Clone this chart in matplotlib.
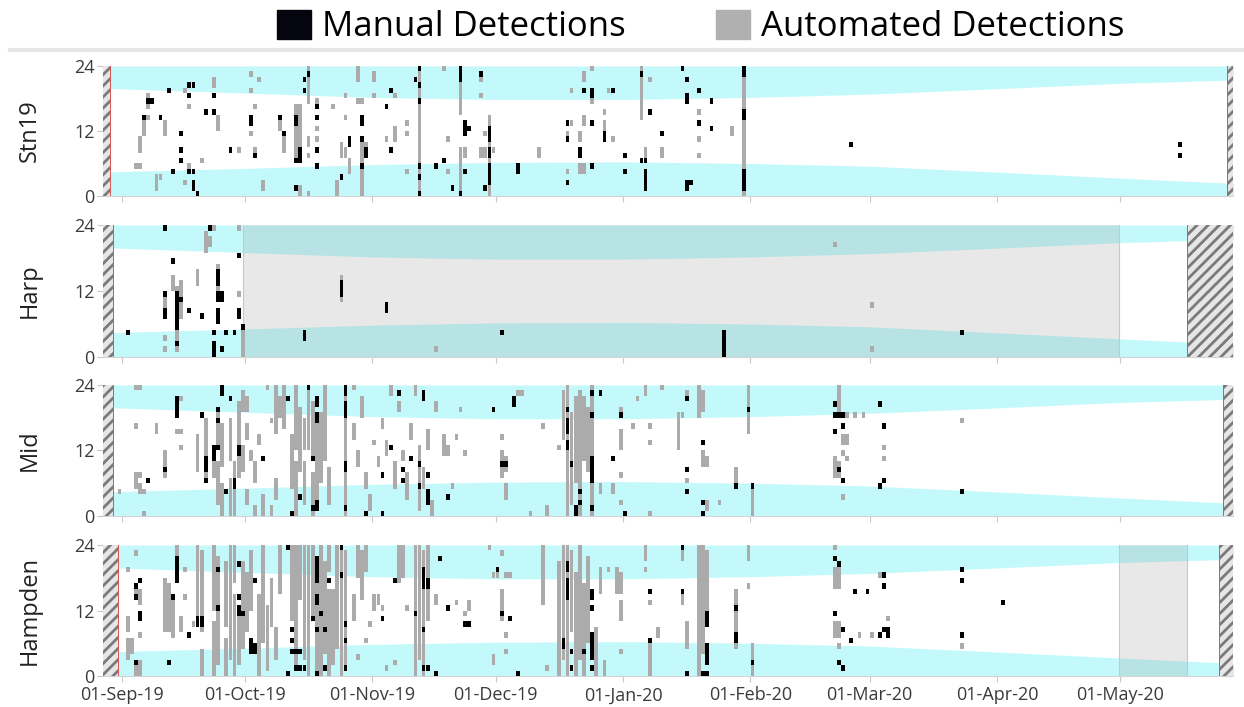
import numpy as np
import matplotlib
matplotlib.use("Agg")
import matplotlib.pyplot as plt
import matplotlib.dates as mdates
from matplotlib.patches import Patch
from matplotlib.lines import Line2D

plt.rcParams["font.family"] = ["Open Sans", "DejaVu Sans"]
plt.rcParams["hatch.linewidth"] = 2.0

# day offsets are counted from 01-Sep-2019, hours are the hour bin (0-23)
start = mdates.date2num(np.datetime64("2019-09-01"))
x_min, x_max = -4.5, 270.4

stations = ["Stn19", "Harp", "Mid", "Hampden"]

# night shading (sunset -> 24 and 0 -> sunrise), hours
band_days = [-5, 30, 61, 91, 122, 153, 182, 213, 243, 271]
sunset = [19.9, 19.0, 18.2, 17.8, 17.8, 18.2, 18.8, 19.8, 20.8, 21.4]
sunrise = [4.4, 5.1, 5.8, 6.2, 6.3, 6.0, 5.5, 4.4, 3.3, 2.3]

# not recording (hatched) and reduced effort (grey) periods, in days
hatched = {
    "Stn19": [(-4.5, -2.8), (268.9, 270.4)],
    "Harp": [(-4.5, -2.0), (259.1, 270.4)],
    "Mid": [(-4.5, -2.0), (268.0, 270.4)],
    "Hampden": [(-4.5, -0.8), (267.0, 270.4)],
}
grey_periods = {
    "Stn19": [],
    "Harp": [(29.6, 242.6)],
    "Mid": [],
    "Hampden": [(242.6, 259.1)],
}

# detections: (day, first hour, last hour)
stn19_manual = [
    (6, 17, 17), (7, 17, 17), (5, 14, 14), (9, 14, 14), (11, 19, 19), (12, 4, 4),
    (14, 11, 11), (14, 8, 8), (14, 6, 6), (16, 20, 20), (17, 20, 20), (16, 18, 18),
    (16, 4, 4), (17, 4, 4), (17, 2, 2), (17, 1, 1), (18, 0, 0), (20, 15, 15),
    (22, 15, 15), (22, 18, 18), (26, 8, 8), (31, 13, 14), (32, 7, 7), (38, 14, 14),
    (39, 11, 11), (42, 13, 14), (42, 6, 6), (43, 6, 6), (43, 7, 8), (42, 1, 1),
    (44, 21, 21), (44, 19, 19), (45, 22, 22), (47, 16, 16), (47, 14, 14), (47, 8, 8),
    (47, 5, 5), (53, 3, 3), (55, 9, 10), (58, 13, 14), (58, 10, 10), (59, 7, 8),
    (58, 5, 5), (64, 16, 16), (65, 19, 19), (65, 8, 8), (71, 21, 21), (72, 23, 23),
    (72, 20, 20), (72, 17, 17), (72, 5, 5), (72, 3, 3), (72, 0, 0), (76, 5, 5),
    (78, 6, 6), (80, 1, 1), (82, 21, 23), (83, 11, 13), (84, 12, 12), (83, 4, 4),
    (82, 0, 0), (87, 22, 22), (89, 10, 12), (89, 7, 8), (89, 2, 5), (88, 1, 1),
    (96, 4, 5), (108, 13, 13), (108, 10, 10), (108, 2, 2), (111, 7, 8), (112, 19, 19),
    (114, 18, 19), (114, 13, 13), (114, 5, 5), (117, 10, 11), (119, 19, 19),
    (122, 7, 7), (122, 4, 4), (126, 22, 22), (126, 6, 6), (127, 6, 6), (127, 1, 4),
    (128, 15, 15), (131, 11, 11), (136, 23, 23), (137, 21, 21), (137, 17, 18),
    (137, 1, 2), (138, 2, 2), (140, 19, 19), (140, 13, 13), (143, 17, 17),
    (143, 12, 12), (151, 22, 23), (151, 14, 15), (151, 1, 4), (177, 9, 9),
    (257, 9, 9), (257, 7, 7),
]
stn19_auto = [
    (3, 5, 5), (4, 5, 5), (4, 8, 10), (5, 11, 13), (6, 16, 18), (6, 14, 14),
    (10, 11, 13), (8, 1, 3), (9, 3, 3), (15, 19, 19), (16, 16, 16), (15, 2, 2),
    (16, 5, 5), (19, 6, 6), (22, 20, 21), (23, 12, 14), (28, 8, 8), (31, 22, 22),
    (33, 21, 21), (31, 19, 19), (32, 16, 16), (31, 11, 11), (32, 8, 8), (34, 1, 2),
    (38, 12, 13), (39, 8, 10), (42, 7, 16), (43, 9, 16), (43, 0, 1), (45, 17, 23),
    (45, 9, 10), (45, 7, 7), (45, 0, 0), (47, 17, 17), (47, 12, 12), (47, 10, 10),
    (51, 16, 16), (54, 18, 18), (54, 14, 14), (53, 7, 9), (54, 7, 8), (52, 0, 2),
    (55, 4, 6), (57, 21, 23), (57, 17, 17), (58, 17, 17), (58, 0, 10), (59, 7, 9),
    (61, 21, 22), (61, 18, 18), (64, 10, 10), (66, 10, 12), (66, 18, 18), (69, 13, 13),
    (69, 11, 11), (69, 4, 4), (72, 0, 23), (78, 23, 23), (79, 10, 10), (79, 4, 4),
    (82, 15, 20), (82, 0, 8), (83, 7, 8), (87, 21, 21), (87, 18, 18), (87, 7, 8),
    (88, 7, 8), (88, 11, 11), (89, 0, 14), (90, 8, 8), (101, 7, 8), (109, 13, 13),
    (108, 11, 11), (108, 4, 4), (109, 19, 19), (111, 10, 11), (111, 4, 5),
    (112, 4, 5), (112, 21, 22), (112, 13, 14), (114, 23, 23), (114, 17, 17),
    (117, 15, 15), (117, 11, 13), (118, 19, 19), (119, 10, 10), (126, 14, 23),
    (128, 21, 21), (127, 7, 8), (131, 7, 8), (140, 15, 15), (140, 10, 10),
    (140, 7, 7), (148, 11, 12), (151, 0, 23),
]

harp_manual = [
    (1, 4, 4), (10, 23, 23), (10, 11, 11), (10, 7, 8), (12, 17, 17), (13, 5, 11),
    (13, 2, 2), (14, 10, 10), (16, 8, 8), (19, 7, 7), (21, 23, 23), (23, 13, 15),
    (23, 10, 11), (24, 10, 11), (23, 6, 8), (22, 4, 4), (22, 0, 2), (24, 1, 1),
    (25, 4, 4), (27, 4, 4), (28, 18, 18), (28, 7, 8), (29, 5, 5), (44, 3, 4),
    (53, 11, 13), (64, 8, 9), (92, 4, 4), (146, 0, 4), (204, 4, 4),
]
harp_auto = [
    (10, 9, 10), (10, 3, 3), (10, 1, 1), (12, 12, 14), (13, 1, 12), (14, 7, 13),
    (18, 13, 15), (20, 19, 22), (21, 20, 21), (22, 23, 23), (23, 12, 16),
    (28, 23, 23), (28, 11, 11), (29, 0, 5), (53, 10, 14), (76, 1, 1), (173, 20, 20),
    (182, 9, 9), (182, 1, 1),
]

mid_manual = [
    (6, 6, 6), (10, 8, 8), (13, 18, 21), (19, 18, 18), (20, 8, 10), (20, 6, 6),
    (22, 10, 11), (22, 12, 12), (23, 12, 12), (23, 19, 19), (23, 17, 17),
    (24, 22, 23), (25, 4, 4), (26, 21, 21), (27, 5, 6), (28, 11, 12), (34, 10, 10),
    (40, 21, 21), (41, 0, 0), (43, 3, 3), (45, 23, 23), (46, 10, 10), (47, 20, 21),
    (47, 17, 18), (47, 1, 2), (46, 1, 1), (54, 22, 23), (54, 18, 20), (54, 8, 9),
    (54, 1, 1), (59, 0, 0), (63, 7, 7), (63, 0, 0), (65, 12, 12), (67, 22, 22),
    (68, 8, 8), (68, 6, 6), (70, 10, 10), (72, 9, 9), (72, 5, 5), (73, 21, 22),
    (74, 7, 7), (74, 2, 4), (79, 3, 3), (90, 19, 19), (95, 20, 21), (92, 9, 9),
    (93, 9, 9), (108, 19, 19), (108, 15, 17), (108, 12, 13), (109, 9, 9),
    (110, 0, 1), (111, 4, 4), (111, 2, 2), (114, 22, 22), (116, 22, 22),
    (114, 18, 18), (114, 6, 10), (114, 1, 1), (119, 10, 10), (121, 18, 18),
    (122, 0, 0), (137, 21, 21), (137, 8, 8), (137, 4, 4), (141, 13, 13),
    (141, 2, 2), (141, 0, 0), (149, 5, 5), (153, 5, 5), (152, 19, 19),
    (173, 20, 20), (173, 18, 18), (174, 18, 18), (175, 18, 18), (175, 16, 16),
    (173, 15, 15), (174, 8, 8), (175, 6, 6), (184, 20, 20), (185, 16, 16),
    (185, 6, 6), (184, 5, 5), (204, 4, 4),
]
mid_auto = [
    (-1, 4, 4), (3, 23, 23), (4, 23, 23), (3, 16, 16), (3, 5, 7), (4, 4, 5),
    (4, 7, 7), (5, 4, 4), (5, 0, 0), (8, 15, 16), (10, 9, 11), (10, 7, 7),
    (13, 15, 15), (14, 15, 15), (14, 21, 21), (14, 12, 12), (18, 8, 14), (20, 7, 17),
    (22, 7, 11), (23, 2, 9), (23, 13, 18), (24, 0, 5), (24, 9, 16), (26, 0, 6),
    (26, 10, 17), (27, 0, 9), (28, 7, 20), (29, 19, 22), (30, 19, 21), (29, 8, 12),
    (30, 14, 16), (31, 10, 11), (32, 6, 9), (33, 13, 14), (30, 2, 4), (32, 0, 1),
    (34, 0, 3), (35, 23, 23), (36, 17, 17), (37, 15, 23), (38, 18, 21), (39, 16, 23),
    (37, 3, 6), (36, 0, 1), (41, 5, 14), (42, 0, 9), (42, 12, 23), (43, 8, 19),
    (44, 2, 9), (44, 12, 17), (45, 12, 22), (46, 0, 7), (46, 11, 20), (47, 3, 16),
    (48, 6, 18), (49, 10, 23), (50, 2, 8), (54, 0, 23), (56, 23, 23), (56, 14, 16),
    (57, 9, 11), (58, 18, 21), (59, 5, 7), (60, 1, 3), (61, 13, 13), (62, 9, 10),
    (63, 16, 17), (64, 11, 13), (65, 22, 23), (66, 5, 9), (67, 19, 20), (68, 10, 11),
    (69, 3, 7), (70, 14, 16), (71, 22, 23), (72, 1, 12), (73, 5, 8), (74, 12, 15),
    (75, 0, 2), (76, 19, 20), (78, 11, 14), (79, 11, 12), (80, 5, 5), (81, 14, 14),
    (82, 19, 19), (83, 11, 11), (92, 14, 14), (92, 7, 11), (93, 8, 10), (93, 3, 5),
    (96, 22, 22), (97, 22, 22), (99, 0, 0), (102, 16, 16), (103, 0, 1),
    (106, 12, 12), (107, 14, 22), (108, 0, 23), (109, 2, 18), (110, 6, 21),
    (111, 0, 22), (112, 10, 21), (113, 8, 19), (114, 0, 23), (116, 4, 5),
    (119, 4, 5), (121, 12, 15), (121, 7, 7), (121, 2, 2), (121, 19, 19),
    (124, 16, 16), (125, 21, 21), (127, 22, 23), (128, 16, 16), (128, 13, 13),
    (128, 0, 0), (131, 23, 23), (135, 12, 18), (136, 18, 18), (137, 22, 22),
    (137, 6, 6), (140, 18, 23), (141, 19, 22), (141, 9, 11), (142, 9, 10),
    (142, 1, 2), (145, 2, 2), (149, 6, 8), (152, 15, 23), (153, 0, 4),
    (174, 19, 23), (175, 13, 14), (176, 13, 14), (176, 18, 18), (178, 18, 18),
    (175, 11, 11), (176, 10, 10), (173, 7, 10), (174, 7, 9), (175, 3, 3),
    (180, 18, 18), (185, 12, 12), (185, 10, 10), (204, 17, 17),
]

hampden_manual = [
    (3, 16, 16), (3, 14, 14), (4, 17, 17), (4, 10, 11), (3, 2, 2), (12, 14, 14),
    (11, 2, 2), (13, 17, 21), (16, 7, 7), (18, 9, 10), (19, 9, 10), (23, 19, 19),
    (23, 12, 12), (28, 20, 20), (28, 14, 14), (28, 11, 12), (29, 11, 11),
    (32, 17, 17), (31, 4, 6), (32, 4, 5), (40, 23, 23), (41, 8, 8), (41, 6, 6),
    (41, 4, 4), (42, 4, 4), (43, 4, 4), (42, 1, 1), (43, 1, 1), (44, 1, 1),
    (40, 0, 0), (46, 10, 10), (47, 17, 21), (47, 13, 14), (47, 8, 8), (48, 11, 11),
    (49, 8, 8), (47, 0, 0), (49, 1, 1), (50, 17, 17), (53, 23, 23), (53, 18, 18),
    (54, 9, 9), (54, 6, 6), (54, 1, 1), (63, 10, 10), (66, 17, 17), (71, 11, 11),
    (73, 16, 19), (74, 16, 17), (73, 8, 8), (73, 1, 1), (74, 1, 1), (76, 0, 0),
    (77, 21, 21), (79, 12, 12), (83, 9, 9), (84, 9, 9), (91, 19, 19), (92, 11, 11),
    (94, 10, 10), (96, 0, 0), (108, 19, 20), (108, 14, 17), (107, 5, 6),
    (109, 4, 4), (109, 1, 1), (112, 4, 4), (114, 14, 15), (114, 12, 12),
    (114, 5, 7), (114, 3, 4), (114, 1, 1), (128, 15, 15), (128, 6, 6),
    (136, 23, 23), (136, 15, 15), (137, 0, 0), (142, 9, 11), (142, 2, 5),
    (141, 0, 0), (142, 0, 0), (149, 12, 12), (149, 7, 7), (149, 6, 6), (153, 2, 2),
    (173, 21, 21), (174, 20, 20), (173, 11, 11), (175, 8, 8), (177, 6, 6),
    (174, 2, 2), (175, 1, 1), (178, 15, 15), (181, 15, 15), (185, 18, 18),
    (185, 16, 16), (185, 8, 8), (186, 7, 8), (184, 7, 7), (204, 19, 19),
    (204, 17, 17), (204, 7, 7), (214, 13, 13),
]
hampden_auto = [
    (1, 19, 19), (1, 8, 10), (1, 3, 6), (2, 4, 6), (3, 22, 22), (3, 15, 15),
    (3, 0, 1), (4, 13, 15), (4, 7, 7), (4, 0, 2), (10, 8, 17), (11, 8, 16),
    (12, 7, 13), (13, 22, 23), (15, 19, 19), (15, 14, 14), (14, 8, 10), (17, 9, 9),
    (18, 11, 23), (19, 8, 22), (19, 0, 4), (22, 0, 9), (22, 12, 23), (23, 2, 21),
    (25, 0, 6), (25, 9, 20), (26, 3, 23), (27, 0, 14), (27, 17, 23), (28, 2, 10),
    (29, 5, 20), (30, 8, 18), (31, 12, 22), (33, 0, 14), (34, 6, 23), (35, 1, 12),
    (36, 9, 17), (37, 3, 8), (38, 15, 23), (41, 10, 23), (42, 2, 23), (43, 14, 23),
    (44, 3, 23), (45, 0, 23), (46, 11, 23), (47, 1, 16), (48, 0, 23), (49, 4, 20),
    (50, 0, 15), (50, 19, 23), (51, 2, 15), (52, 5, 23), (53, 0, 22), (54, 2, 22),
    (56, 10, 14), (57, 18, 23), (58, 14, 22), (59, 19, 23), (57, 3, 3), (59, 6, 6),
    (60, 9, 9), (61, 12, 14), (62, 13, 14), (63, 12, 12), (64, 1, 1), (66, 2, 2),
    (67, 17, 23), (68, 18, 23), (69, 12, 12), (71, 0, 23), (72, 3, 23),
    (73, 0, 22), (74, 10, 23), (76, 13, 14), (81, 13, 13), (83, 11, 11),
    (84, 12, 13), (89, 23, 23), (90, 18, 18), (90, 2, 3), (91, 18, 18),
    (92, 10, 15), (92, 22, 22), (93, 18, 18), (93, 7, 7), (93, 4, 4), (94, 18, 18),
    (102, 13, 23), (103, 1, 1), (106, 0, 20), (107, 3, 23), (108, 0, 23),
    (109, 8, 22), (110, 0, 18), (111, 3, 23), (112, 0, 16), (113, 6, 21),
    (115, 0, 8), (116, 15, 19), (117, 0, 2), (118, 19, 19), (120, 15, 19),
    (121, 10, 13), (121, 15, 18), (121, 4, 4), (127, 21, 23), (127, 19, 19),
    (128, 13, 13), (128, 0, 6), (130, 7, 8), (136, 13, 14), (136, 21, 22),
    (137, 5, 9), (140, 0, 23), (141, 4, 23), (142, 12, 22), (149, 5, 15),
    (152, 21, 23), (152, 16, 16), (153, 0, 5), (173, 23, 23), (173, 16, 19),
    (174, 16, 19), (173, 7, 9), (174, 7, 9), (174, 5, 5), (179, 7, 7), (182, 7, 7),
    (184, 18, 18), (186, 10, 10), (204, 5, 5),
]

manual = {"Stn19": stn19_manual, "Harp": harp_manual, "Mid": mid_manual, "Hampden": hampden_manual}
auto = {"Stn19": stn19_auto, "Harp": harp_auto, "Mid": mid_auto, "Hampden": hampden_auto}

cyan = "#c4f9fb"
grey_cell = "#ababab"

fig = plt.figure(figsize=(12.44, 7.07), dpi=100)

# axes boxes in figure fractions (left, bottom, width, height)
boxes = [
    (0.0828, 0.7228, 0.9084, 0.1839),
    (0.0828, 0.4950, 0.9084, 0.1867),
    (0.0828, 0.2702, 0.9084, 0.1853),
    (0.0828, 0.0438, 0.9084, 0.1853),
]


def draw_cells(ax, runs, color, z):
    days = np.array([r[0] for r in runs], dtype=float)
    bottoms = np.array([r[1] for r in runs], dtype=float)
    heights = np.array([r[2] - r[1] + 1 for r in runs], dtype=float)
    ax.bar(start + days + 0.05, heights, bottom=bottoms, width=0.9, align="edge",
           color=color, linewidth=0, zorder=z)


for i, name in enumerate(stations):
    ax = fig.add_axes(boxes[i])
    bx = start + np.array(band_days, dtype=float)
    ax.fill_between(bx, sunset, 24, color=cyan, linewidth=0, zorder=0)
    ax.fill_between(bx, 0, sunrise, color=cyan, linewidth=0, zorder=0)

    for a, b in grey_periods[name]:
        ax.axvspan(start + a, start + b, facecolor="#808080", alpha=0.18,
                   edgecolor="none", zorder=1)
        ax.axvline(start + a, color="#c8c8c8", lw=0.8, zorder=1)
        ax.axvline(start + b, color="#c8c8c8", lw=0.8, zorder=1)

    draw_cells(ax, auto[name], grey_cell, 2)
    draw_cells(ax, manual[name], "black", 3)

    (l0, l1), (r0, r1) = hatched[name]
    for a, b in [(l0, l1), (r0, r1)]:
        ax.axvspan(start + a, start + b, facecolor="#e6e6e6", hatch="///",
                   edgecolor="#7a7a7a", linewidth=0, zorder=4)
    ax.axvline(start + l1, color="#d9534f", lw=0.7, zorder=5)
    ax.axvline(start + r0, color="#d9534f", lw=0.7, zorder=5)

    ax.set_xlim(start + x_min, start + x_max)
    ax.set_ylim(0, 24)
    ax.set_yticks([0, 12, 24])
    ax.xaxis.set_major_locator(mdates.MonthLocator())
    ax.xaxis.set_major_formatter(mdates.DateFormatter("%d-%b-%y"))
    for s in ["top", "right", "left"]:
        ax.spines[s].set_visible(False)
    ax.spines["bottom"].set_color("#d4d4d4")
    ax.tick_params(axis="both", colors="#c8c8c8", labelcolor="#3a3a3a",
                   length=4, labelsize=13)
    ax.tick_params(axis="y", pad=2)
    if i < 3:
        ax.tick_params(axis="x", labelbottom=False)
    ax.set_ylabel(name, fontsize=17, color="#222222")
    ax.yaxis.set_label_coords(-0.054, 0.5)

handles = [Patch(facecolor="#05050f", edgecolor="#05050f"),
           Patch(facecolor="#b0b0b0", edgecolor="#b0b0b0")]
fig.legend(handles, ["Manual Detections", "Automated Detections"], ncol=2,
           loc="upper center", bbox_to_anchor=(0.563, 1.03), frameon=False,
           fontsize=25, handlelength=1.0, handleheight=0.9, handletextpad=0.3,
           columnspacing=2.6)
fig.add_artist(Line2D([0.008, 1.0], [1 - 50 / 707] * 2, color="#e6e6e6", lw=3,
                      transform=fig.transFigure))

fig.savefig("out.png", dpi=100)
